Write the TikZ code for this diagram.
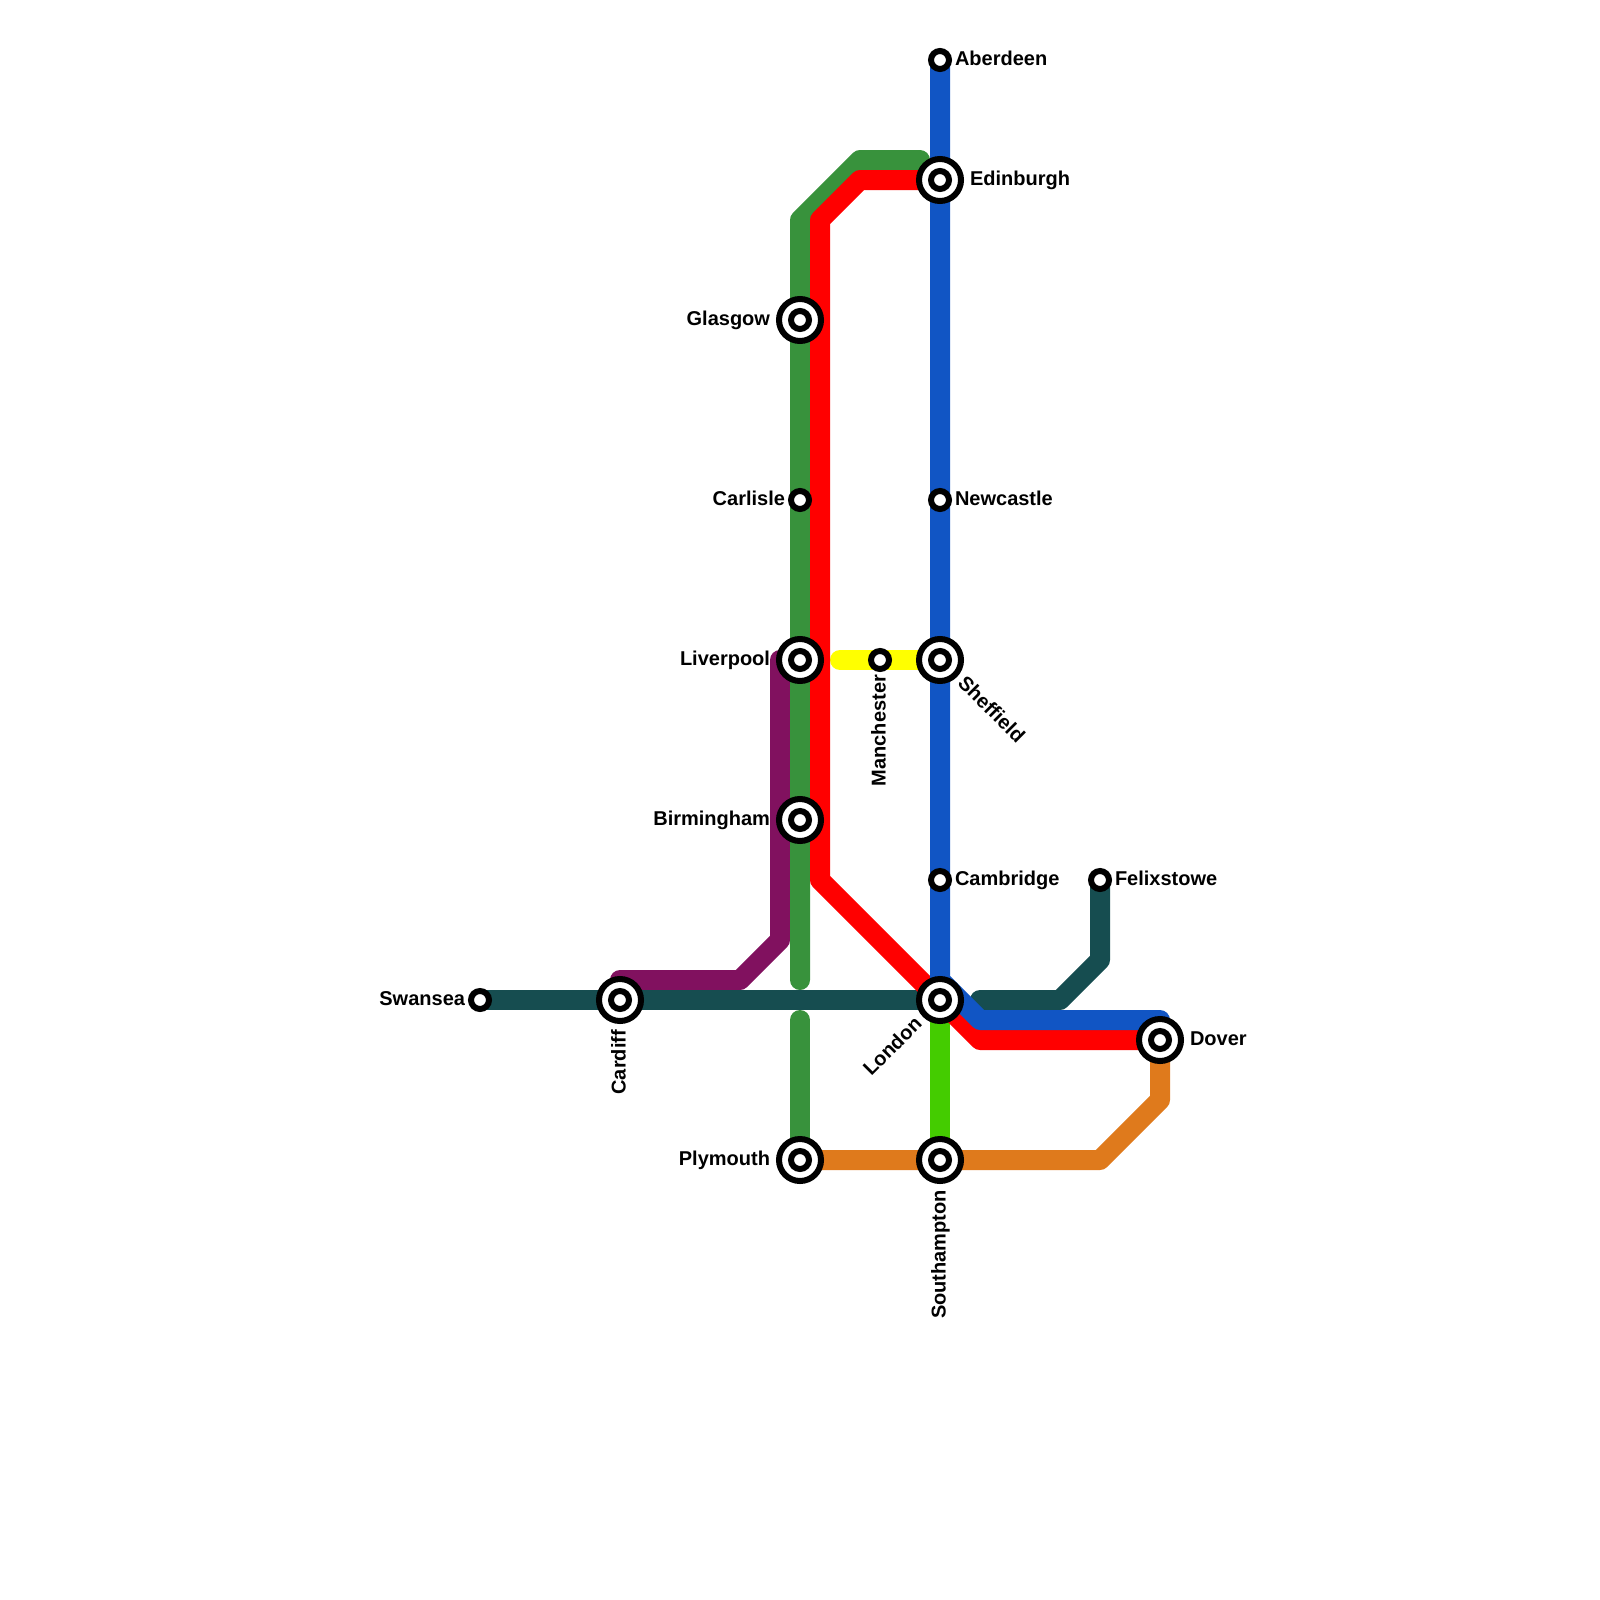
\documentclass[tikz,border=0pt]{standalone}
\usepackage{fontspec}
\setmainfont{Liberation Sans}
\usetikzlibrary{backgrounds}
\definecolor{cgreen}{HTML}{38923C}
\definecolor{cred}{HTML}{FF0000}
\definecolor{cblue}{HTML}{1155C4}
\definecolor{cteal}{HTML}{164D50}
\definecolor{cpurple}{HTML}{81115F}
\definecolor{corange}{HTML}{DF7A1C}
\definecolor{cyellow}{HTML}{FFFF00}
\definecolor{clime}{HTML}{44CC00}
\tikzset{
  rail/.style={line width=20pt,line cap=round,line join=round},
  halt/.style={circle,draw=black,fill=white,line width=6pt,minimum size=18pt,inner sep=0pt,outer sep=0pt},
  hub/.style={circle,draw=black,fill=white,line width=6pt,minimum size=42pt,inner sep=0pt,outer sep=0pt},
  lab/.style={font=\bfseries\fontsize{20}{22}\selectfont,text=black,inner sep=0pt,outer sep=0pt,text height=14.4pt,text depth=0pt},
}
\begin{document}
\begin{tikzpicture}[x=1pt,y=-1pt]
\useasboundingbox (0,0) rectangle (1600,1600);
% hubs
\foreach \n/\x/\y in {edinburgh/940/180,glasgow/800/320,liverpool/800/660,birmingham/800/820,sheffield/940/660,london/940/1000,cardiff/620/1000,plymouth/800/1160,southampton/940/1160,dover/1160/1040}{
  \node[hub] (\n) at (\x,\y) {};
  \node[halt] (\n-i) at (\x,\y) {};
}
% small stations
\node[halt] (aberdeen) at (940,60) {};
\node[halt] (carlisle) at (800,500) {};
\node[halt] (newcastle) at (940,500) {};
\node[halt] (manchester) at (880,660) {};
\node[halt] (cambridge) at (940,880) {};
\node[halt] (felixstowe) at (1100,880) {};
\node[halt] (swansea) at (480,1000) {};
% bends
\coordinate (g1) at (800,980);
\coordinate (g2) at (800,220);
\coordinate (g3) at (860,160);
\coordinate (g4) at (920,160);
\coordinate (g5) at (800,1020);
\coordinate (r1) at (820,880);
\coordinate (r2) at (820,220);
\coordinate (r3) at (860,180);
\coordinate (r4) at (980,1040);
\coordinate (b1) at (940,980);
\coordinate (b2) at (980,1020);
\coordinate (b3) at (1160,1020);
\coordinate (t1) at (980,1000);
\coordinate (t2) at (1060,1000);
\coordinate (t3) at (1100,960);
\coordinate (p1) at (620,980);
\coordinate (p2) at (740,980);
\coordinate (p3) at (780,940);
\coordinate (p4) at (780,660);
\coordinate (o1) at (1100,1160);
\coordinate (o2) at (1160,1100);
\coordinate (y1) at (840,660);
\begin{scope}[on background layer]
  \draw[rail,cpurple] (p1) -- (p2) -- (p3) -- (p4);
  \draw[rail,cgreen] (g1) -- (g2) -- (g3) -- (g4);
  \draw[rail,cgreen] (g5) -- (plymouth.center);
  \draw[rail,cyellow] (y1) -- (sheffield.center);
  \draw[rail,clime] (london.center) -- (southampton.center);
  \draw[rail,corange] (plymouth.center) -- (o1) -- (o2) -- (dover.center);
  \draw[rail,cteal] (swansea.center) -- (london.center);
  \draw[rail,cteal] (felixstowe.center) -- (t3) -- (t2) -- (t1);
  \draw[rail,cred] (edinburgh.center) -- (r3) -- (r2) -- (r1) -- (r4) -- (dover.center);
  \draw[rail,cblue] (aberdeen.center) -- (b1) -- (b2) -- (b3);
\end{scope}
% labels
\node[lab,anchor=west] (l1) at (955,58.5) {Aberdeen};
\node[lab,anchor=west] (l2) at (970,178.5) {Edinburgh};
\node[lab,anchor=east] (l3) at (770,318.5) {Glasgow};
\node[lab,anchor=east] (l4) at (785,498.5) {Carlisle};
\node[lab,anchor=west] (l5) at (955,498.5) {Newcastle};
\node[lab,anchor=east] (l6) at (770,658.5) {Liverpool};
\node[lab,anchor=east] (l7) at (770,818.5) {Birmingham};
\node[lab,anchor=west] (l8) at (955,878.5) {Cambridge};
\node[lab,anchor=west] (l9) at (1115,878.5) {Felixstowe};
\node[lab,anchor=east] (l10) at (465,998.5) {Swansea};
\node[lab,anchor=west] (l11) at (1190,1038.5) {Dover};
\node[lab,anchor=east] (l12) at (770,1158.5) {Plymouth};
\node[lab,anchor=east,rotate=90] (l13) at (878.5,675) {Manchester};
\node[lab,anchor=east,rotate=90] (l14) at (618.5,1030) {Cardiff};
\node[lab,anchor=east,rotate=90] (l15) at (938.5,1190) {Southampton};
\node[lab,anchor=west,rotate=-45] (l16) at (962,679) {Sheffield};
\node[lab,anchor=east,rotate=45] (l17) at (918,1020) {London};
\end{tikzpicture}
\end{document}
